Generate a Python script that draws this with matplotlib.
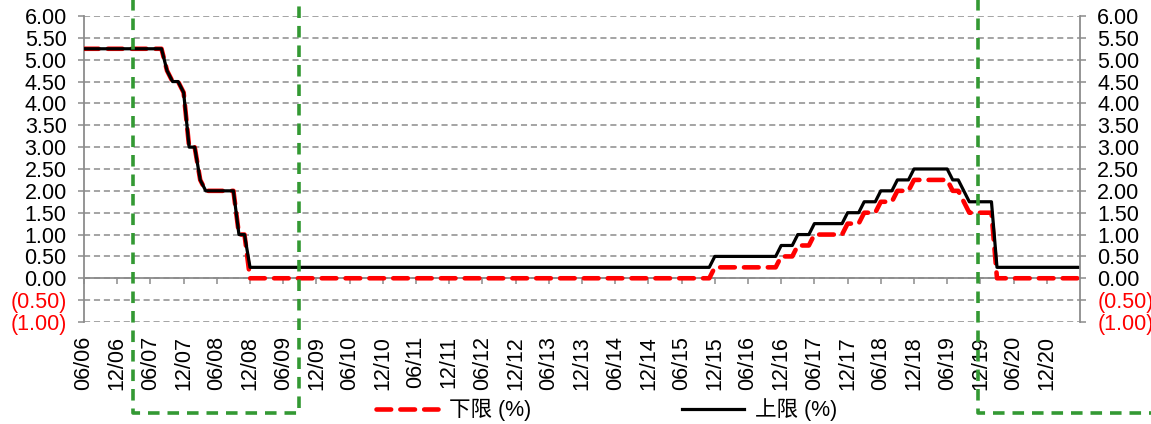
import matplotlib
matplotlib.use('Agg')
import matplotlib.pyplot as plt
import matplotlib.transforms as mtransforms
import numpy as np

plt.rcParams['font.family'] = ['Liberation Sans', 'Noto Sans CJK SC', 'DejaVu Sans']

# monthly fed funds target range, 06/2006 .. 06/2021
upper = ([5.25] * 15 + [4.75] + [4.50] * 2 + [4.25] + [3.00] * 2 + [2.25]
         + [2.00] * 6 + [1.00] * 2 + [0.25] * 84 + [0.50] * 12 + [0.75] * 3
         + [1.00] * 3 + [1.25] * 6 + [1.50] * 3 + [1.75] * 3 + [2.00] * 3
         + [2.25] * 3 + [2.50] * 7 + [2.25] * 2 + [2.00] + [1.75] * 5 + [0.25] * 16)
lower = ([5.25] * 15 + [4.75] + [4.50] * 2 + [4.25] + [3.00] * 2 + [2.25]
         + [2.00] * 6 + [1.00] * 2 + [0.00] * 84 + [0.25] * 12 + [0.50] * 3
         + [0.75] * 3 + [1.00] * 6 + [1.25] * 3 + [1.50] * 3 + [1.75] * 3
         + [2.00] * 3 + [2.25] * 7 + [2.00] * 2 + [1.75] + [1.50] * 5 + [0.00] * 16)

tick_labels = ['06/06', '12/06', '06/07', '12/07', '06/08', '12/08', '06/09', '12/09',
               '06/10', '12/10', '06/11', '12/11', '06/12', '12/12', '06/13', '12/13',
               '06/14', '12/14', '06/15', '12/15', '06/16', '12/16', '06/17', '12/17',
               '06/18', '12/18', '06/19', '12/19', '06/20', '12/20']
y_ticks = [-1.0, -0.5, 0.0, 0.5, 1.0, 1.5, 2.0, 2.5, 3.0, 3.5, 4.0, 4.5, 5.0, 5.5, 6.0]

# recession windows in month index (open end runs off the figure)
windows = [(8.85, 38.9), (161.6, 215)]

GRAY = '#8c8c8c'
GREEN = '#339933'
FS = 15.5


def fmt(v):
    return '({:.2f})'.format(-v) if v < 0 else '{:.2f}'.format(v)


def style_yaxis(a, side):
    a.set_ylim(-1, 6)
    a.set_yticks(y_ticks)
    a.set_yticklabels([fmt(v) for v in y_ticks], fontsize=FS)
    for lab, v in zip(a.get_yticklabels(), y_ticks):
        if v < 0:
            lab.set_color('red')
    a.spines[side].set_color(GRAY)
    a.spines[side].set_linewidth(1.3)
    a.tick_params(axis='y', length=4.5, width=1.1, color=GRAY, pad=8)


fig = plt.figure(figsize=(11.51, 4.24), dpi=100)
ax = fig.add_axes([0.073, 0.2406, 0.8653, 0.7217])
ax2 = ax.twinx()
months = np.arange(len(upper))

ax.plot(months, lower, color='red', lw=3.3, dashes=(3.2, 2.0),
        dash_capstyle='round', label='下限 (%)', zorder=3)
ax.plot(months, upper, color='black', lw=2.3, label='上限 (%)', zorder=4)

ax.set_xlim(0, len(upper) - 1)
ax.set_xticks(np.arange(0, 6 * len(tick_labels), 6))
ax.set_xticklabels(tick_labels)
ax.tick_params(axis='x', length=4.5, width=1.1, color=GRAY, pad=37,
               labelrotation=90, labelsize=FS)

style_yaxis(ax, 'left')
style_yaxis(ax2, 'right')

ax.grid(axis='y', color=GRAY, ls=(0, (4, 2.5)), lw=1.1)
ax.set_axisbelow(True)
for s in ['top', 'right']:
    ax.spines[s].set_visible(False)
for s in ['top', 'left', 'bottom']:
    ax2.spines[s].set_visible(False)
ax.spines['bottom'].set_position(('data', 0))
ax.spines['bottom'].set_color(GRAY)
ax.spines['bottom'].set_linewidth(1.3)

# dashed green boxes marking the recession windows
trans = mtransforms.blended_transform_factory(ax.transData, fig.transFigure)
for x0, x1 in windows:
    ax.plot([x0, x0, x1, x1], [1.05, 0.026, 0.026, 1.05], transform=trans,
            color=GREEN, lw=2.6, dashes=(3.2, 2.2), clip_on=False, zorder=5)

ax.legend(loc='center', bbox_to_anchor=(0.527, 0.033),
          bbox_transform=fig.transFigure, ncol=2, frameon=False, fontsize=FS,
          handlelength=2.9, columnspacing=7.0, handletextpad=0.5)

fig.savefig('out.png', dpi=100)
